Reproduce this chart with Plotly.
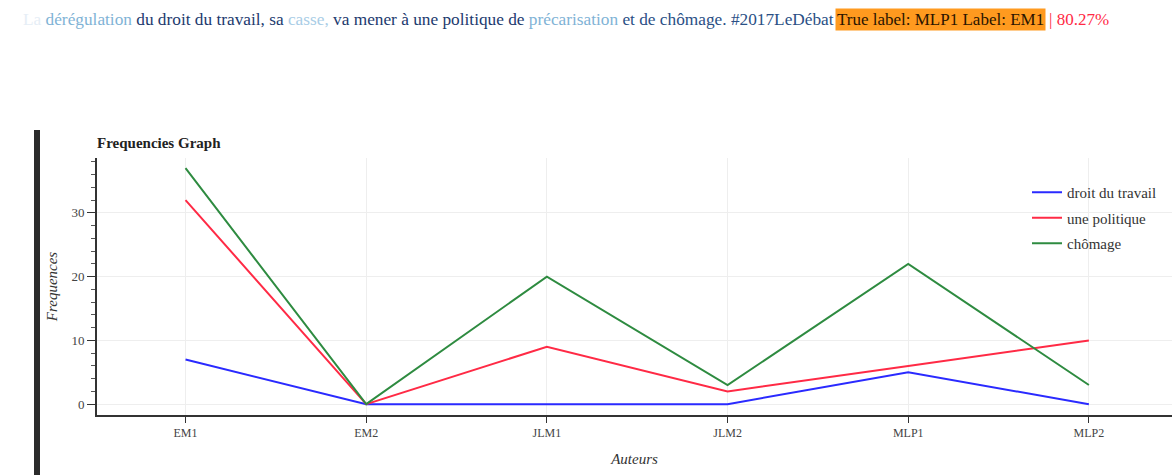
import plotly.graph_objects as go

auteurs = ["EM1", "EM2", "JLM1", "JLM2", "MLP1", "MLP2"]
droit_du_travail = [7, 0, 0, 0, 5, 0]
une_politique = [32, 0, 9, 2, 6, 10]
chomage = [37, 0, 20, 3, 22, 3]

series = [
    ("droit du travail", droit_du_travail, "#2a2aff"),
    ("une politique", une_politique, "#ff2a45"),
    ("chômage", chomage, "#2e8b40"),
]

# Sentence with per-word attention colouring
words = [
    ("La", "#e6eef6"),
    ("dérégulation", "#7fb3d6"),
    ("du droit du travail, sa", "#1c3a6e"),
    ("casse,", "#a9cde6"),
    ("va mener à une politique de", "#1c3a6e"),
    ("précarisation", "#7fb3d6"),
    ("et de chômage. #2017LeDébat", "#2a4f85"),
]
sentence = " ".join(f"<span style='color:{c}'>{w}</span>" for w, c in words)
true_label = "MLP1"
pred_label = "EM1"
score = "80.27%"

W, H = 1172, 475
L, R, T, B = 97, 0, 158, 60
PW, PH = W - L - R, H - T - B


def px(x):
    return (x - L) / PW


def py(y):
    return (H - B - y) / PH


fig = go.Figure()
for name, vals, color in series:
    fig.add_trace(go.Scatter(
        x=list(range(len(auteurs))), y=vals, mode="lines", name=name,
        legendgroup=name,
        line=dict(color=color, width=2),
    ))

serif = "Liberation Serif"

fig.update_layout(
    width=W, height=H,
    margin=dict(l=L, r=R, t=T, b=B),
    paper_bgcolor="white", plot_bgcolor="white",
    font=dict(family=serif, size=12, color="#333"),
    showlegend=True,
    legend=dict(
        x=px(1027), y=py(176), xanchor="left", yanchor="top",
        bgcolor="rgba(0,0,0,0)", font=dict(family=serif, size=15, color="#333"),
        tracegroupgap=3, itemwidth=30,
    ),
    xaxis=dict(
        range=[-0.49, 5.46], tickmode="array",
        tickvals=list(range(len(auteurs))), ticktext=auteurs,
        showline=True, linecolor="#333", linewidth=2,
        ticks="outside", ticklen=6, tickcolor="#333",
        showgrid=True, gridcolor="#eeeeee", zeroline=False,
        tickfont=dict(family=serif, size=12, color="#444"),
        title=dict(text="<i>Auteurs</i>", font=dict(family=serif, size=15, color="#333"), standoff=14),
    ),
    yaxis=dict(
        range=[-1.7, 38.6], tickvals=[0, 10, 20, 30],
        showline=True, linecolor="#333", linewidth=2,
        ticks="outside", ticklen=8, tickcolor="#333",
        minor=dict(dtick=2, ticks="outside", ticklen=4, tickcolor="#555", showgrid=False),
        showgrid=True, gridcolor="#eeeeee", zeroline=False,
        tickfont=dict(family=serif, size=13, color="#444"),
        title=dict(text="<i>Frequences</i>", font=dict(family=serif, size=15, color="#333"), standoff=10),
    ),
    shapes=[
        dict(type="rect", xref="paper", yref="paper",
             x0=px(34), x1=px(40), y0=py(130), y1=py(476),
             fillcolor="#2b2b2b", line=dict(width=0)),
    ],
    annotations=[
        dict(text=sentence, xref="paper", yref="paper", x=px(21), y=py(20),
             xanchor="left", yanchor="middle", showarrow=False,
             font=dict(family=serif, size=17.3)),
        dict(text=f"True label: {true_label} Label: {pred_label}", xref="paper", yref="paper",
             x=px(835), y=py(20), xanchor="left", yanchor="middle", showarrow=False,
             bgcolor="#ff9a1f", borderpad=1,
             font=dict(family=serif, size=17, color="#2a1400")),
        dict(text=f"| {score}", xref="paper", yref="paper",
             x=px(1047), y=py(20), xanchor="left", yanchor="middle", showarrow=False,
             font=dict(family=serif, size=17, color="#ff2a45")),
        dict(text="<b>Frequencies Graph</b>", xref="paper", yref="paper",
             x=px(95), y=py(143), xanchor="left", yanchor="middle", showarrow=False,
             font=dict(family=serif, size=15, color="#222")),
    ],
)

fig.write_html("out.html")
